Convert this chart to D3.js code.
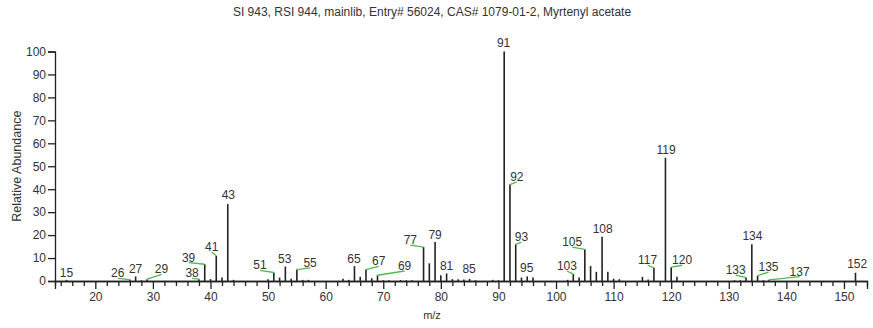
<!DOCTYPE html>
<html>
<head>
<meta charset="utf-8">
<script src="https://cdn.jsdelivr.net/npm/d3@7"></script>
<style>
  body { margin: 0; background: #fff; }
  svg { display: block; font-family: "Liberation Sans", Arial, sans-serif; }
</style>
</head>
<body>
<div id="chart"></div>
<script>
// Spectrum: m/z and relative abundance
var mzValues = [15, 26, 27, 28, 29, 38, 39, 40, 41, 42, 43, 44,
  50, 51, 52, 53, 54, 55, 56, 57, 63, 64, 65, 66, 67, 68, 69, 70, 71, 73, 74, 75,
  77, 78, 79, 80, 81, 82, 83, 84, 85, 86, 89, 90, 91, 92, 93, 94, 95, 96,
  102, 103, 104, 105, 106, 107, 108, 109, 110, 111, 115, 116, 117, 119, 120, 121,
  131, 132, 133, 134, 135, 136, 137, 152];
var abundances = [0.5, 0.6, 2, 0.3, 0.8, 0.8, 7.3, 0.8, 11, 1.5, 33.5, 0.5,
  0.8, 3.7, 1.5, 6.3, 1, 5, 0.5, 0.5, 1, 0.5, 6.5, 1.8, 5, 1.2, 2.5, 0.3, 0.3, 0.4, 0.3, 0.3,
  14.8, 7.7, 17, 2.5, 3.3, 0.8, 0.8, 0.6, 0.9, 0.3, 0.5, 0.3, 100, 42, 16, 1.5, 2, 1.5,
  0.5, 3, 1.5, 13.8, 6.5, 4, 19.3, 4, 1, 0.8, 1.8, 0.7, 5.8, 53.7, 6, 1.9,
  0.3, 0.3, 1.5, 16, 2.3, 0.3, 0.5, 3.6];

// Peak labels and where the library placed them (in m/z and abundance units)
var labeledMz =   [15, 26, 27, 29, 38, 39, 41, 43, 51, 53, 55, 65, 67, 69, 77, 79, 81, 85,
  91, 92, 93, 95, 103, 105, 108, 117, 119, 120, 133, 134, 135, 137, 152];
var labelAtMz =   [15.0, 23.9, 27.0, 31.5, 36.8, 36.2, 40.2, 43.1, 48.6, 52.9, 57.3, 64.9, 69.2, 73.7, 74.7, 79.0, 81.0, 84.9,
  90.9, 93.2, 94.0, 94.9, 101.9, 102.8, 108.1, 115.9, 119.1, 121.9, 131.2, 134.1, 136.9, 142.3, 152.3];
var labelAtAbund = [1.9, 1.6, 3.6, 3.3, 1.6, 8.4, 13.1, 35.6, 5.1, 8.0, 6.2, 8.0, 6.8, 4.8, 16.1, 18.1, 4.8, 3.4,
  101.8, 43.6, 17.4, 4.0, 4.8, 15.2, 21.0, 7.3, 55.3, 7.3, 3.0, 17.8, 4.3, 2.3, 5.6];

var yTicks = [0, 10, 20, 30, 40, 50, 60, 70, 80, 90, 100];
var xMajorTicks = [20, 30, 40, 50, 60, 70, 80, 90, 100, 110, 120, 130, 140, 150];

var titleText = "SI 943, RSI 944, mainlib, Entry# 56024, CAS# 1079-01-2, Myrtenyl acetate";

var width = 873, height = 328;
var margin = { left: 55, right: 6, top: 51.5, bottom: 47 };

var svg = d3.select("#chart").append("svg")
  .attr("width", width)
  .attr("height", height);

var xScale = d3.scaleLinear().domain([13, 154]).range([margin.left, width - margin.right]);
var yScale = d3.scaleLinear().domain([0, 100]).range([height - margin.bottom, margin.top]);

var textColor = "#333";

// Title
svg.append("text")
  .attr("x", 432).attr("y", 16)
  .attr("text-anchor", "middle")
  .attr("font-size", 12)
  .attr("fill", textColor)
  .text(titleText);

// Y axis
svg.append("g")
  .attr("transform", "translate(" + margin.left + ",0)")
  .call(d3.axisLeft(yScale).tickValues(yTicks).tickSize(7).tickPadding(2));

// X axis: minor ticks every 2, labelled ticks every 10
var minorTicks = d3.range(14, 154, 2).filter(function(d) { return d % 10 !== 0; });
svg.append("g")
  .attr("transform", "translate(0," + yScale(0) + ")")
  .call(d3.axisBottom(xScale).tickValues(minorTicks).tickSize(5).tickFormat(""));
svg.append("g")
  .attr("transform", "translate(0," + yScale(0) + ")")
  .call(d3.axisBottom(xScale).tickValues(xMajorTicks).tickSize(8).tickPadding(3));

svg.selectAll(".domain").attr("stroke", "#222").attr("stroke-width", 1.3);
svg.selectAll(".tick line").attr("stroke", "#222").attr("stroke-width", 1.3);
svg.selectAll(".tick text")
  .attr("font-size", 12)
  .attr("font-family", "Liberation Sans, Arial, sans-serif")
  .attr("fill", textColor);

// Axis titles
svg.append("text")
  .attr("transform", "translate(21," + yScale(50) + ") rotate(-90)")
  .attr("text-anchor", "middle")
  .attr("font-size", 12.5)
  .attr("fill", textColor)
  .text("Relative Abundance");

svg.append("text")
  .attr("x", 432).attr("y", 319)
  .attr("text-anchor", "middle")
  .attr("font-size", 11)
  .attr("fill", textColor)
  .text("m/z");

// Peaks
var peaks = mzValues.map(function(m, i) { return { mz: m, value: abundances[i] }; });

svg.append("g").selectAll("line")
  .data(peaks)
  .enter().append("line")
  .attr("x1", function(d) { return xScale(d.mz); })
  .attr("x2", function(d) { return xScale(d.mz); })
  .attr("y1", yScale(0))
  .attr("y2", function(d) { return yScale(d.value); })
  .attr("stroke", "#222")
  .attr("stroke-width", 1.6);

// Labels with green leader lines when moved away from their peak
var labels = labeledMz.map(function(m, i) {
  return { mz: m, value: abundances[mzValues.indexOf(m)], lx: labelAtMz[i], ly: labelAtAbund[i] };
});

svg.append("g").selectAll("line")
  .data(labels.filter(function(d) { return Math.abs(xScale(d.lx) - xScale(d.mz)) > 3; }))
  .enter().append("line")
  .attr("x1", function(d) { return xScale(d.lx); })
  .attr("y1", function(d) { return yScale(d.ly) + 1; })
  .attr("x2", function(d) { return xScale(d.mz); })
  .attr("y2", function(d) { return yScale(d.value); })
  .attr("stroke", "#4cbb4c")
  .attr("stroke-width", 1.3);

svg.append("g").selectAll("text")
  .data(labels)
  .enter().append("text")
  .attr("x", function(d) { return xScale(d.lx); })
  .attr("y", function(d) { return yScale(d.ly); })
  .attr("text-anchor", "middle")
  .attr("font-size", 12)
  .attr("fill", textColor)
  .text(function(d) { return d.mz; });
</script>
</body>
</html>
